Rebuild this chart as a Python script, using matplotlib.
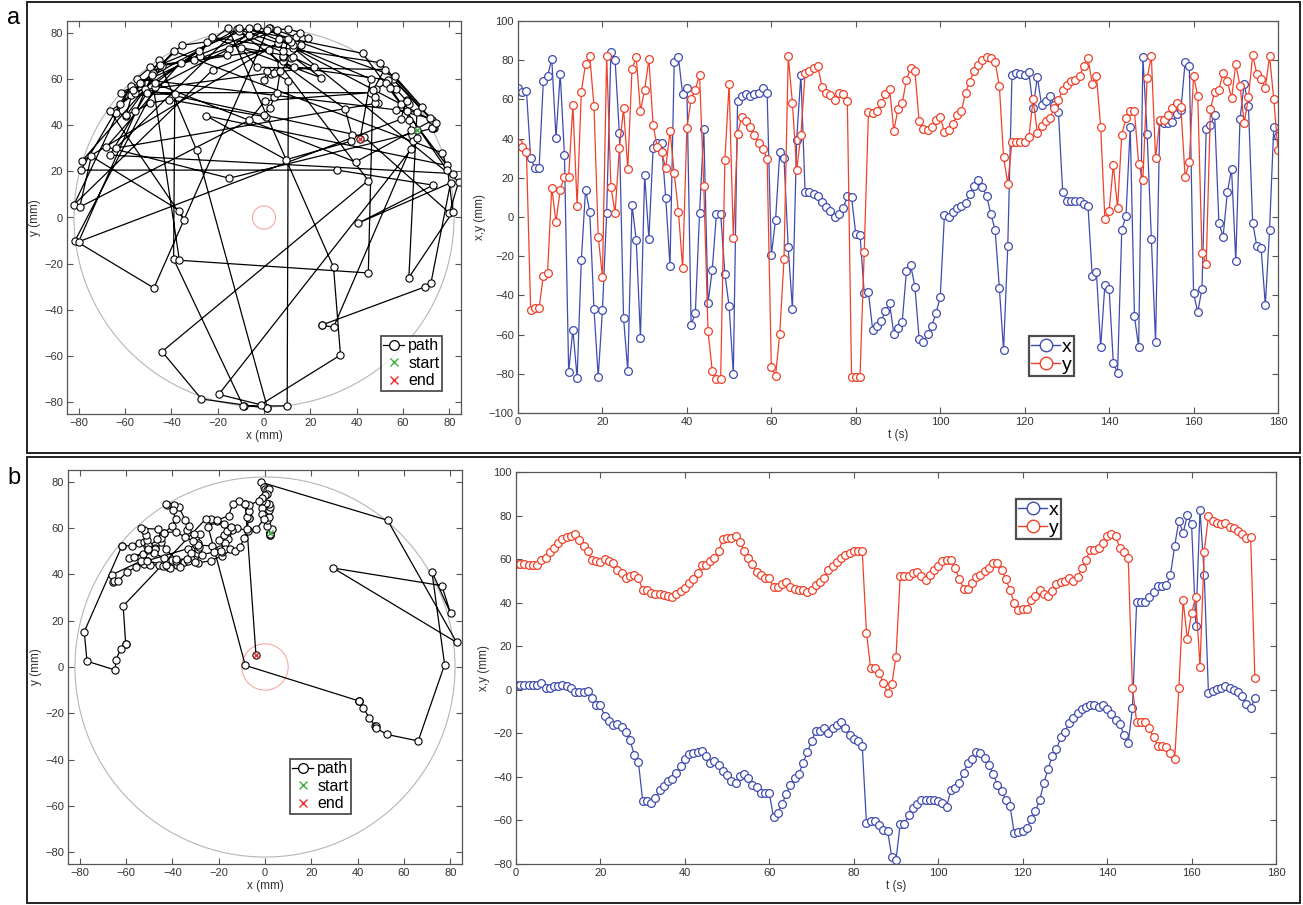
import matplotlib
matplotlib.use('Agg')
import matplotlib.pyplot as plt
import numpy as np
from matplotlib.lines import Line2D
from matplotlib.patches import Circle, Rectangle

plt.rcParams['font.family'] = ['Liberation Sans', 'DejaVu Sans']

# ---------------- data: panel a (1 sample / s, t = 0..180) ----------------
a_x = [66, 64, 64.5, 30, 25, 25, 69.5, 72, 80.5, 40.5,
       73, 31.5, -79, -57.5, -82, -22, 14, 2.5, -47, -81.5,
       -47.5, 2, 84, 80, 43, -51.5, -78.5, 6, -11.5, -61.5,
       21.5, -11, 35, 38, 37.5, 9.5, -25, 79, 81.5, 62.5,
       66, -55, -49, 2, 45, -44, -27, 1.5, 1.5, -29,
       -45.5, -80, 59, 61.5, 62.5, 61.5, 62.5, 63.5, 66, 63.5,
       -19.5, -1.5, 33, 30, -15.5, -47, 39.5, 72.5, 12.5, 12.5,
       11.5, 10.5, 7.5, 5, 3, 0, 1.5, 4.5, 10.5, 10,
       -8.5, -9, -39, -38.5, -57.5, -55.5, -53, -48, -44, -59.5,
       -56.5, -53.5, -27.5, -24.5, -35.5, -62, -64, -59.5, -55.5, -49,
       -41, 1, 0, 2.5, 4.5, 5.5, 7, 11.5, 16, 19,
       15.5, 10.5, 1.5, -6.5, -36, -68, -15, 72.5, 73.5, 73,
       72.5, 74, 55.5, 71.5, 57, 59, 61.5, 57, 53.5, 13,
       8, 8, 8, 8, 6.5, 5.5, -30, -28, -66.5, -34.5,
       -36.5, -74.5, -79.5, -6.5, 0.5, 46, -50.5, -66.5, 81.5, 42.5,
       -11, -64, 49, 48, 48, 48.5, 52.5, 54.5, 79, 77,
       -39, -48.5, -36.5, 45, 47, 52, -3, -10, 12.5, 24.5,
       -22.5, 50, 68, 56.5, -3, -15, -16, -45, -6.5, 46,
       41.5]
a_y = [38, 35.5, 33, -47.5, -46.5, -46.5, -30, -28.5, 15, -2.5,
       14, 20.5, 20.5, 57, 5.5, 64, 78, 82, 56.5, -10,
       -30.5, 82, 15.5, 2, 35, 55.5, 24.5, 75.5, 81.5, 54,
       65, 80.5, 47, 35.5, 33, 25, 44, 22.5, 2.5, -26,
       45.5, 60, 65, 72.5, 16, -58, -78.5, -82.5, -82.5, 29,
       68, -10.5, 42.5, 51, 49, 46, 42, 38, 34.5, 29.5,
       -76.5, -81, -59.5, -21.5, 82, 58, 24, 42, 73.5, 74.5,
       76, 77, 66.5, 63.5, 62, 59.5, 63.5, 62.5, 59, -81.5,
       -81.5, -81.5, -18, 53.5, 53, 54, 58, 62.5, 65.5, 44,
       55, 58, 70, 76, 74.5, 49, 45, 44.5, 46, 49.5,
       51, 43.5, 44.5, 47.5, 52, 54, 63.5, 69, 74.5, 77.5,
       80, 81.5, 81, 79, 67, 30.5, 17, 38.5, 38.5, 38.5,
       38.5, 41, 60, 43, 46.5, 49, 50.5, 55.5, 59.5, 65,
       67.5, 69.5, 70, 72, 77, 81, 68, 72, 46, -1,
       3, 26.5, 4.5, 42, 50.5, 54, 54, 27, 19, 71,
       82, 30, 49.5, 49.5, 52, 55.5, 58, 56, 20.5, 28,
       72, 61.5, -18.5, -24, 55, 64, 65, 73.5, 69.5, 60.5,
       78, 67, 48, 61, 82.5, 73, 70.5, 66, 82, 60,
       34]

# ---------------- data: panel b (1 sample / s, t = 0..175) ----------------
b_x = [2.2, 2.2, 2.2, 2.2, 2.2, 2.2, 3.0, 1.0, 1.0, 1.9,
       1.9, 2.2, 1.9, 0.6, -1.2, -1.2, -1.2, -0.5, -3.7, -7.2,
       -7.2, -12, -14.3, -16.4, -15.8, -17.2, -19.6, -23, -29.9, -33.2,
       -51, -51, -52, -49.8, -45.9, -44.1, -41.8, -40.9, -38, -34.9,
       -31.9, -29.4, -29.1, -28.8, -28, -30.6, -33.7, -32.6, -34.5, -37.2,
       -39.1, -42.1, -42.9, -39.8, -38.6, -40.3, -43.6, -44.7, -47.5, -47.5,
       -47.5, -58.6, -56.6, -52.5, -47.9, -43.6, -40.3, -38.6, -33.4, -28.8,
       -23.5, -18.7, -18.7, -17.4, -20, -17.7, -16.4, -14.6, -17.7, -20.7,
       -22.7, -23.5, -25.6, -61.2, -60.1, -60.1, -62.3, -64.3, -64.7, -76.8,
       -78, -61.7, -61.7, -57.4, -54.3, -52.4, -50.8, -50.5, -50.5, -50.8,
       -51.3, -52, -53.6, -46.2, -44.9, -42.9, -38.3, -33.7, -31.9, -28.4,
       -29.1, -31.1, -34.5, -38.6, -43.6, -46.7, -50.5, -53.3, -65.8, -65.5,
       -65.0, -63.5, -59.4, -55.6, -50.8, -42.9, -36.5, -30.3, -27.3, -21.9,
       -19.2, -15.1, -13.1, -10.8, -9, -7.7, -7, -7, -7.7, -7,
       -8.8, -11.1, -13.8, -15.7, -20.7, -24.5, -8.5, 40.4, 40.4, 40.4,
       42.4, 45, 47.6, 47.7, 48, 52.6, 66.1, 77.5, 72, 80.1,
       76.3, 29.4, 82.7, 52.9, -1.6, -0.6, 0.2, 0.7, 1.7, 1,
       -0.1, -1.2, -2.7, -6.7, -8.5, -3.9]
b_y = [57.7, 57.7, 57.7, 57.1, 57.1, 57.5, 59.5, 60.7, 63.3, 64.9,
       67.6, 69.1, 70.2, 70.7, 71.7, 68.7, 66.1, 63.8, 59.5, 59.2,
       58.7, 60, 59, 58, 55.2, 53.4, 51.1, 52.3, 52.6, 51.1,
       45.8, 45.8, 44.5, 44.2, 43.9, 43.5, 43, 42.7, 44.2, 45.3,
       46.8, 49.1, 50.8, 53.4, 57.2, 57.5, 59, 60.7, 63.6, 69.1,
       69.7, 69.9, 70.5, 67.9, 63.8, 60.7, 57.7, 53.9, 52.6, 51.4,
       51.1, 47, 47.3, 48.8, 49.3, 47, 46.1, 45.8, 45.8, 45,
       45.8, 48, 49.6, 51.1, 54.9, 56.8, 58.7, 60.3, 61.8, 62.9,
       63.6, 63.8, 63.8, 26.3, 9.8, 9.8, 7.9, 3, -1.3, 2.5,
       15.2, 52.3, 52.3, 52.3, 53.7, 53.9, 52.3, 50.3, 52.6, 54.9,
       56.8, 59, 59.8, 59.5, 55.7, 50.8, 46.5, 46.5, 49.1, 51.6,
       52.6, 54.4, 56.1, 58.3, 58, 55.2, 50.8, 45.8, 39.9, 36.6,
       37.0, 37.0, 41.2, 43.0, 45.8, 43.9, 43.0, 45.3, 48.5, 49.6,
       50.0, 51.1, 50.0, 51.6, 55.7, 59.5, 64.4, 64.4, 64.9, 67.5,
       70.5, 71.7, 70.5, 65.3, 63.3, 60.3, 0.7, -14.6, -14.6, -14.6,
       -17.7, -21.9, -25.6, -25.6, -26.4, -29.1, -31.9, 1.0, 41.2, 23.1,
       35.1, 42.7, 10.6, 63.3, 79.7, 77.5, 76.6, 76.3, 76.6, 74.8,
       74.3, 73, 71.7, 69.9, 70.2, 5.3]

arena_radius = 82
target_radius_a = 5
target_radius_b = 10

# ---------------- styling ----------------
W, H = 1303, 905
fig = plt.figure(figsize=(W / 100, H / 100), dpi=100)

BLUE = '#3f4cae'
RED = '#ef4129'
TXT = '#333333'
SPINE = '#555555'


def ax_px(l, t, r, b):
    return fig.add_axes([l / W, 1 - b / H, (r - l) / W, (b - t) / H])


def style(ax):
    for s in ax.spines.values():
        s.set_color(SPINE)
        s.set_linewidth(0.9)
    ax.tick_params(direction='in', length=4.5, width=0.8, colors=SPINE,
                   labelcolor=TXT, labelsize=8, top=True, right=True, pad=3)


def path_panel(ax, xs, ys, tr, leg_box):
    style(ax)
    ax.add_patch(Circle((0, 0), arena_radius, fill=False, ec='#b5b5b5', lw=0.8))
    ax.add_patch(Circle((0, 0), tr, fill=False, ec='#f6a9a0', lw=0.8))
    ax.plot(xs, ys, '-o', color='black', lw=0.9, ms=5.2, mfc='white',
            mec='black', mew=0.8)
    ax.plot(xs[0], ys[0], 'x', color='#3fb03f', ms=4, mew=1.0)
    ax.plot(xs[-1], ys[-1], 'x', color='#ee2b2b', ms=4, mew=1.0)
    ax.set_xlim(-85, 85)
    ax.set_ylim(-85, 85)
    ax.set_xticks(np.arange(-80, 81, 20))
    ax.set_yticks(np.arange(-80, 81, 20))
    ax.set_xlabel('x (mm)', fontsize=8.5, color=TXT, labelpad=1)
    ax.set_ylabel('y (mm)', fontsize=8.5, color=TXT, labelpad=2)
    h = [Line2D([], [], color='black', marker='o', mfc='white', mec='black',
                lw=0.9, ms=7, mew=0.9),
         Line2D([], [], color='#3fb03f', marker='x', ls='none', ms=6, mew=1),
         Line2D([], [], color='#ee2b2b', marker='x', ls='none', ms=6, mew=1)]
    lg = ax.legend(h, ['path', 'start', 'end'], loc='upper left',
                   bbox_to_anchor=(leg_box[0] / W, 1 - leg_box[1] / H),
                   bbox_transform=fig.transFigure, fontsize=11.5,
                   frameon=True, fancybox=False, borderpad=0.15,
                   labelspacing=0.15, handlelength=1.3, handletextpad=0.25,
                   borderaxespad=0)
    lg.get_frame().set_edgecolor('#222222')
    lg.get_frame().set_linewidth(1.3)


def ts_panel(ax, xs, ys, ylim, yticks, leg_box):
    style(ax)
    t = np.arange(len(xs))
    ax.plot(t, xs, '-o', color=BLUE, lw=0.9, ms=5.6, mfc='white', mec=BLUE,
            mew=0.9)
    ax.plot(t, ys, '-o', color=RED, lw=0.9, ms=5.6, mfc='white', mec=RED,
            mew=0.9)
    ax.set_xlim(0, 180)
    ax.set_ylim(*ylim)
    ax.set_xticks(np.arange(0, 181, 20))
    ax.set_yticks(yticks)
    ax.set_xlabel('t (s)', fontsize=8.5, color=TXT, labelpad=1)
    ax.set_ylabel('x,y (mm)', fontsize=8.5, color=TXT, labelpad=2)
    h = [Line2D([], [], color=BLUE, marker='o', mfc='white', mec=BLUE,
                lw=1.0, ms=9, mew=1.0),
         Line2D([], [], color=RED, marker='o', mfc='white', mec=RED,
                lw=1.0, ms=9, mew=1.0)]
    lg = ax.legend(h, ['x', 'y'], loc='upper left',
                   bbox_to_anchor=(leg_box[0] / W, 1 - leg_box[1] / H),
                   bbox_transform=fig.transFigure, fontsize=14,
                   frameon=True, fancybox=False, borderpad=0.1,
                   labelspacing=0.05, handlelength=1.5, handletextpad=0.1,
                   borderaxespad=0)
    lg.get_frame().set_edgecolor('#222222')
    lg.get_frame().set_linewidth(1.6)


# outer panel frames and letters
for (t0, b0) in [(2, 453), (457, 903)]:
    fig.add_artist(Rectangle((27 / W, 1 - b0 / H), (1300 - 27) / W, (b0 - t0) / H,
                             transform=fig.transFigure, fill=False,
                             ec='#222222', lw=1.4))
fig.text(14 / W, 1 - 18 / H, 'a', fontsize=17, ha='center', va='center')
fig.text(14 / W, 1 - 478 / H, 'b', fontsize=17, ha='center', va='center')

axA1 = ax_px(67, 21, 461, 414)
path_panel(axA1, a_x, a_y, target_radius_a, (381, 336))
axA2 = ax_px(518, 21, 1278, 413)
ts_panel(axA2, a_x, a_y, (-100, 100), np.arange(-100, 101, 20), (1029, 336))

axB1 = ax_px(68, 470, 462, 864)
path_panel(axB1, b_x, b_y, target_radius_b, (290, 759))
axB2 = ax_px(516, 472, 1276, 864)
ts_panel(axB2, b_x, b_y, (-80, 100), np.arange(-80, 101, 20), (1016, 499))

fig.savefig('out.png', dpi=100)
